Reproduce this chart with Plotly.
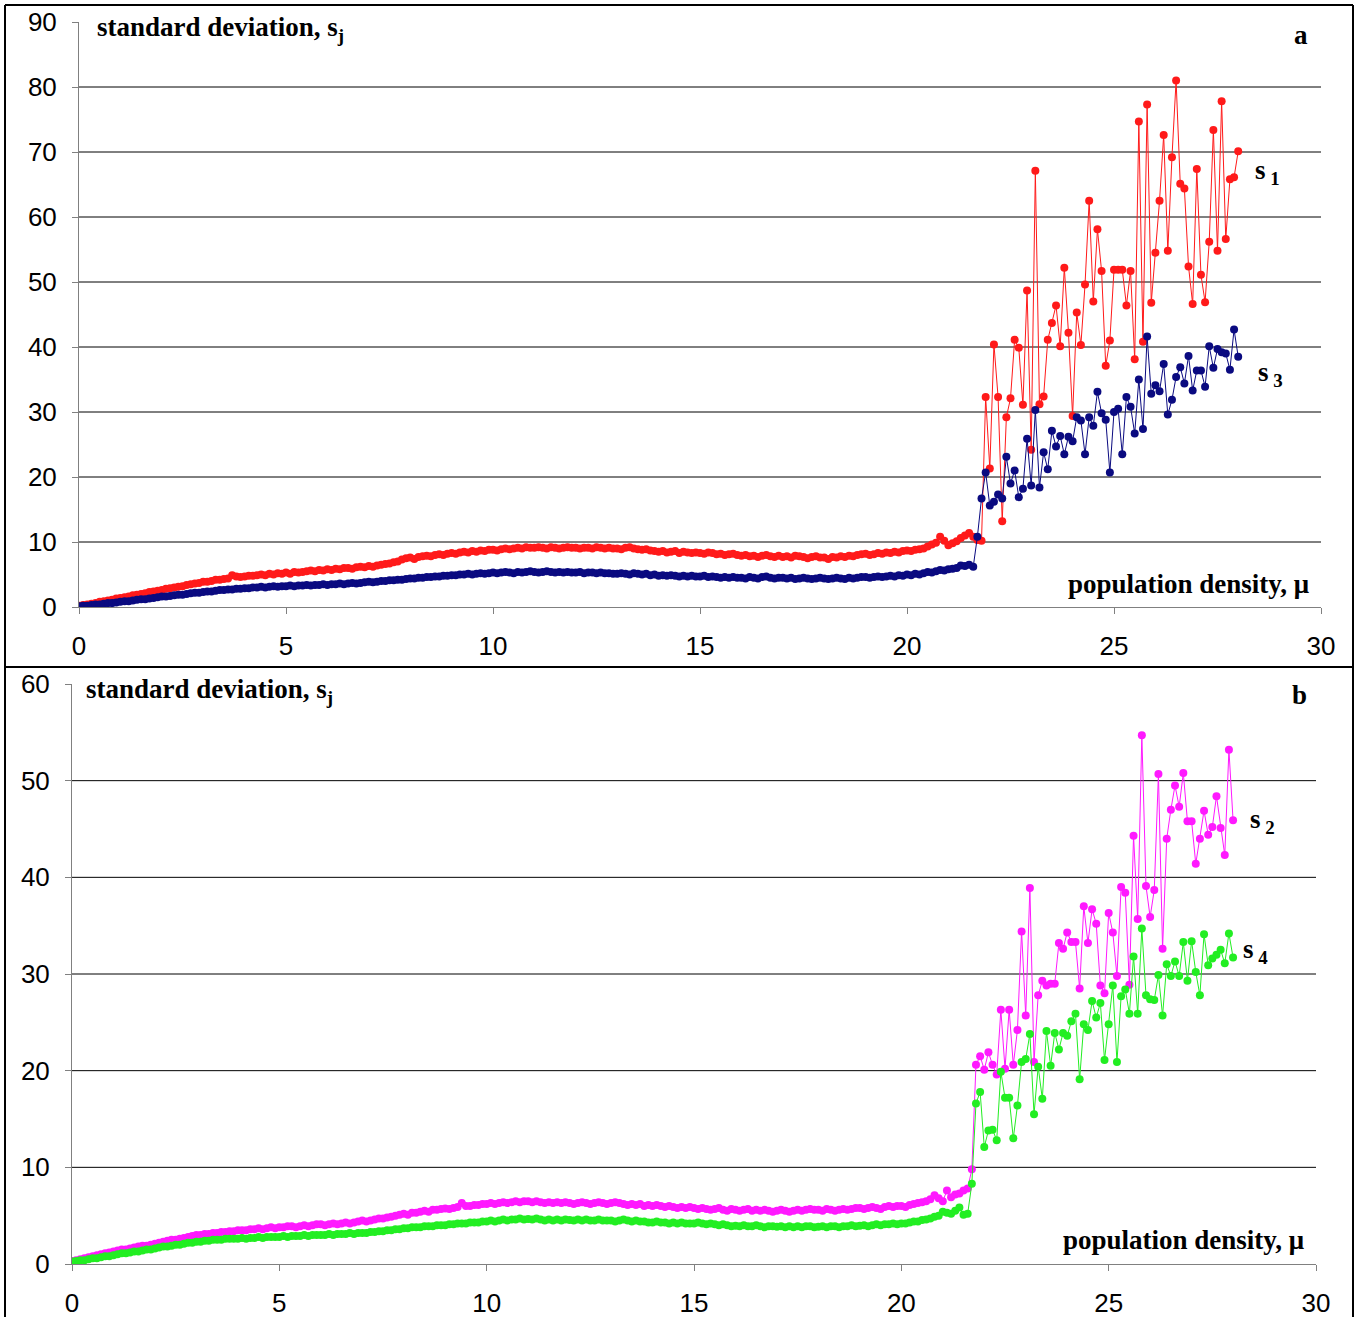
import plotly.graph_objects as go

W, H = 1358, 1317

# x grid: population density, step 0.1 from 0.0 to 28.0
x_vals = [round(0.1 * i, 1) for i in range(281)]

# ---------- panel a ----------
s1_dense = [
    0.2,0.3,0.4,0.5,0.6,0.8,0.9,1.0,1.1,1.3,
    1.4,1.5,1.6,1.8,1.9,2.0,2.1,2.3,2.4,2.5,
    2.6,2.8,2.9,3.0,3.1,3.2,3.4,3.5,3.6,3.7,
    3.9,3.9,4.0,4.2,4.2,4.3,4.4,4.9,4.7,4.6,
    4.7,4.8,4.8,4.9,5.0,4.9,5.1,5.0,5.2,5.1,
    5.3,5.1,5.4,5.3,5.4,5.5,5.6,5.5,5.7,5.6,
    5.8,5.7,5.9,5.8,6.0,6.0,5.9,6.1,6.2,6.1,
    6.3,6.2,6.4,6.5,6.6,6.7,6.9,7.0,7.3,7.5,
    7.6,7.4,7.7,7.8,7.9,7.8,8.0,8.1,8.0,8.2,
    8.3,8.2,8.4,8.5,8.4,8.6,8.5,8.7,8.6,8.8,
    8.8,8.7,8.9,9.0,8.9,9.0,9.1,9.0,9.2,9.1,
    9.1,9.2,9.1,9.0,9.2,9.1,9.0,9.1,9.2,9.1,
    9.1,9.0,9.1,9.1,9.0,9.2,9.1,9.0,9.1,9.0,
    9.0,8.9,9.1,9.2,9.0,8.9,8.8,8.9,8.7,8.6,
    8.5,8.6,8.4,8.5,8.6,8.3,8.5,8.4,8.3,8.4,
    8.3,8.2,8.4,8.3,8.1,8.2,8.0,8.1,8.2,8.0,
    7.9,8.0,7.8,7.9,7.7,7.9,8.0,7.8,7.7,7.9,
    7.7,7.8,7.6,7.9,7.8,7.7,7.5,7.7,7.8,7.6,
    7.6,7.4,7.7,7.6,7.8,7.7,7.9,7.8,8.0,8.1,
    8.2,8.0,8.1,8.3,8.2,8.4,8.3,8.5,8.4,8.6,
    8.7,8.6,8.8,8.9,9.0,9.3,9.6,9.9,10.8,10.2,
    9.5,9.8,10.1,10.6,11.0,11.4,10.8,
]
s1_sparse = [
    10.3,10.2,32.3,
    21.3,40.4,32.3,13.2,29.2,32.1,41.1,39.9,31.1,48.7,
    24.2,67.1,31.2,32.4,41.1,43.7,46.4,40.1,52.2,42.2,
    29.4,45.3,40.3,49.6,62.5,47.0,58.1,51.7,37.1,41.0,
    51.9,51.9,51.9,46.4,51.7,38.1,74.7,40.8,77.3,46.8,
    54.5,62.5,72.6,54.8,69.2,81.0,65.1,64.4,52.4,46.6,
    67.4,51.1,46.9,56.2,73.4,54.8,77.8,56.6,65.8,66.1,
    70.1,
]
s3_dense = [
    0.1,0.2,0.2,0.3,0.4,0.4,0.5,0.6,0.6,0.7,
    0.8,0.9,0.9,1.0,1.1,1.2,1.2,1.3,1.4,1.5,
    1.6,1.6,1.7,1.8,1.9,1.9,2.0,2.1,2.2,2.2,
    2.3,2.4,2.4,2.5,2.6,2.6,2.7,2.7,2.8,2.8,
    2.9,2.9,3.0,3.0,3.1,3.0,3.1,3.2,3.1,3.2,
    3.2,3.3,3.2,3.3,3.3,3.4,3.3,3.4,3.4,3.5,
    3.4,3.5,3.5,3.6,3.5,3.6,3.7,3.6,3.7,3.8,
    3.9,3.8,3.9,4.0,4.0,4.1,4.1,4.2,4.2,4.3,
    4.4,4.4,4.5,4.5,4.6,4.6,4.7,4.7,4.8,4.8,
    4.9,4.9,5.0,5.0,5.1,5.0,5.1,5.2,5.1,5.2,
    5.3,5.2,5.3,5.4,5.3,5.2,5.4,5.3,5.4,5.5,
    5.4,5.3,5.4,5.5,5.4,5.3,5.4,5.3,5.4,5.3,
    5.3,5.4,5.2,5.3,5.3,5.2,5.3,5.2,5.2,5.1,
    5.1,5.2,5.1,5.0,5.2,5.1,5.0,5.1,4.9,5.0,
    4.8,4.9,4.8,4.9,4.8,4.7,4.8,4.7,4.8,4.7,
    4.7,4.8,4.6,4.7,4.6,4.5,4.6,4.5,4.6,4.5,
    4.5,4.4,4.6,4.5,4.4,4.6,4.7,4.5,4.4,4.5,
    4.5,4.4,4.5,4.3,4.4,4.5,4.4,4.3,4.4,4.5,
    4.4,4.3,4.4,4.5,4.4,4.3,4.5,4.4,4.5,4.6,
    4.6,4.5,4.6,4.7,4.6,4.7,4.8,4.7,4.9,4.8,
    5.0,4.9,5.1,5.0,5.2,5.4,5.3,5.5,5.7,5.6,
    5.8,5.9,6.0,6.4,6.3,6.5,6.2,
]
s3_sparse = [
    10.8,16.7,20.7,
    15.6,16.2,17.3,16.7,23.1,19.0,21.0,16.9,18.2,25.9,
    18.7,30.3,18.4,23.8,21.2,27.1,24.7,26.3,23.5,26.2,
    25.5,29.2,28.7,23.5,29.2,27.9,33.1,29.8,28.8,20.7,
    30.0,30.5,23.5,32.3,30.8,26.7,35.0,27.4,41.6,32.8,
    34.1,33.2,37.4,29.6,31.9,35.4,36.9,34.4,38.6,33.3,
    36.4,36.4,33.9,40.1,36.8,39.7,39.2,39.0,36.5,42.7,
    38.5,
]

# ---------- panel b ----------
s2_dense = [
    0.3,0.4,0.5,0.6,0.7,0.8,0.9,1.0,1.1,1.2,
    1.3,1.4,1.5,1.5,1.6,1.7,1.8,1.9,1.9,2.0,
    2.1,2.2,2.3,2.4,2.5,2.5,2.6,2.7,2.8,2.9,
    3.0,3.0,3.1,3.1,3.2,3.2,3.3,3.3,3.4,3.4,
    3.5,3.5,3.5,3.6,3.6,3.7,3.6,3.7,3.8,3.7,
    3.8,3.8,3.9,3.9,3.8,3.9,4.0,3.9,4.0,4.1,
    4.1,4.0,4.1,4.2,4.1,4.2,4.3,4.2,4.3,4.4,
    4.5,4.4,4.5,4.6,4.7,4.7,4.8,4.9,5.0,5.1,
    5.2,5.1,5.3,5.3,5.4,5.5,5.4,5.6,5.6,5.7,
    5.75,5.7,5.8,5.9,6.3,6.0,6.0,6.1,6.1,6.2,
    6.2,6.3,6.2,6.3,6.4,6.3,6.4,6.5,6.4,6.5,
    6.5,6.4,6.5,6.4,6.3,6.4,6.3,6.4,6.3,6.4,
    6.3,6.2,6.3,6.4,6.3,6.2,6.3,6.4,6.3,6.2,
    6.3,6.4,6.3,6.2,6.1,6.2,6.1,6.2,6.0,6.1,
    6.0,6.1,6.0,5.9,6.0,5.9,5.8,5.9,5.8,5.9,
    5.8,5.7,5.8,5.7,5.6,5.7,5.8,5.6,5.5,5.7,
    5.6,5.5,5.6,5.7,5.5,5.6,5.5,5.6,5.5,5.4,
    5.5,5.6,5.5,5.4,5.5,5.6,5.5,5.6,5.7,5.6,
    5.6,5.5,5.7,5.6,5.5,5.6,5.7,5.6,5.7,5.8,
    5.8,5.7,5.8,5.9,5.8,5.7,5.9,6.0,5.9,6.0,
    6.0,5.9,6.1,6.2,6.3,6.4,6.5,6.7,7.1,6.8,
    6.5,7.6,6.9,7.2,7.3,7.6,7.8,
]
s2_sparse = [
    9.8,20.6,21.5,
    20.1,21.9,20.6,19.6,26.3,20.2,26.3,20.6,24.2,34.4,
    25.7,38.9,20.9,27.8,29.3,28.8,29.0,29.0,33.2,32.6,
    34.3,33.3,33.3,28.5,37.0,33.2,36.7,35.2,28.8,28.0,
    36.3,34.3,29.8,39.0,38.4,28.9,44.3,35.7,54.7,39.1,
    35.9,38.7,50.7,32.6,44.0,47.0,49.5,47.3,50.8,45.8,
    45.8,41.4,44.0,46.9,44.4,45.2,48.4,45.1,42.3,53.2,
    45.9,
]
s4_dense = [
    0.25,0.3,0.4,0.4,0.5,0.6,0.6,0.7,0.8,0.8,
    0.9,1.0,1.1,1.1,1.2,1.3,1.3,1.4,1.5,1.5,
    1.6,1.7,1.8,1.8,1.9,2.0,2.0,2.1,2.2,2.2,
    2.3,2.3,2.4,2.4,2.5,2.5,2.5,2.6,2.6,2.6,
    2.6,2.7,2.6,2.7,2.7,2.8,2.7,2.8,2.8,2.8,
    2.8,2.9,2.8,2.9,2.9,2.9,3.0,2.9,3.0,3.0,
    3.0,3.0,3.1,3.0,3.1,3.1,3.1,3.2,3.1,3.2,
    3.2,3.2,3.3,3.3,3.4,3.4,3.5,3.5,3.6,3.6,
    3.7,3.7,3.8,3.8,3.8,3.9,3.9,3.9,4.0,4.0,
    4.0,4.1,4.1,4.2,4.2,4.2,4.3,4.3,4.3,4.4,
    4.4,4.5,4.4,4.5,4.6,4.5,4.6,4.6,4.7,4.6,
    4.65,4.6,4.7,4.6,4.5,4.6,4.5,4.6,4.5,4.6,
    4.55,4.5,4.6,4.5,4.6,4.5,4.5,4.6,4.5,4.5,
    4.5,4.4,4.5,4.6,4.5,4.4,4.5,4.4,4.4,4.3,
    4.3,4.4,4.3,4.3,4.2,4.3,4.2,4.3,4.2,4.2,
    4.2,4.3,4.2,4.1,4.2,4.1,4.0,4.1,4.0,3.9,
    3.95,3.9,4.0,3.9,3.9,4.0,3.9,3.8,3.9,3.9,
    3.85,3.9,3.8,3.9,3.8,3.9,3.8,3.9,3.9,3.8,
    3.85,3.9,3.8,3.9,3.9,3.8,3.9,3.9,4.0,3.9,
    3.95,4.0,3.9,4.0,4.1,4.0,4.1,4.1,4.2,4.1,
    4.2,4.2,4.3,4.4,4.4,4.55,4.6,4.7,4.9,5.0,
    5.4,5.3,5.2,5.5,5.85,5.1,5.2,
]
s4_sparse = [
    8.3,16.6,17.8,
    12.1,13.8,13.9,12.8,19.9,17.2,17.2,13.0,16.4,20.9,
    21.2,23.8,15.5,20.4,17.1,24.1,20.5,23.9,22.2,23.9,
    23.6,25.1,25.9,19.1,24.8,24.2,27.2,25.5,27.0,21.1,
    24.8,28.8,20.9,27.7,28.4,25.9,31.8,25.9,34.7,27.8,
    27.4,27.3,29.9,25.7,31.0,29.8,31.3,29.8,33.3,29.3,
    33.4,30.2,27.8,34.1,30.9,31.6,32.0,32.5,31.1,34.2,
    31.7,
]

s1 = s1_dense + s1_sparse
s3 = s3_dense + s3_sparse
s2 = s2_dense + s2_sparse
s4 = s4_dense + s4_sparse

x_ticks = [0, 5, 10, 15, 20, 25, 30]
ya_ticks = [0, 10, 20, 30, 40, 50, 60, 70, 80, 90]
yb_ticks = [0, 10, 20, 30, 40, 50, 60]
ya_grid = [10, 20, 30, 40, 50, 60, 70, 80]
yb_grid = [10, 20, 30, 40, 50]

COL = {"s1": "#ff1a1a", "s3": "#0a0a80", "s2": "#ff19ff", "s4": "#22ee22"}


def px(xp):
    return xp / W


def py(yp):
    return 1 - yp / H


fig = go.Figure()


def add_series(y, color, xa, ya):
    fig.add_trace(go.Scatter(
        x=x_vals, y=y, mode="lines+markers", xaxis=xa, yaxis=ya,
        line=dict(color=color, width=1),
        marker=dict(color=color, size=8, line=dict(width=0)),
        showlegend=False, hoverinfo="x+y",
    ))


add_series(s1, COL["s1"], "x", "y")
add_series(s3, COL["s3"], "x", "y")
add_series(s2, COL["s2"], "x2", "y2")
add_series(s4, COL["s4"], "x2", "y2")

tickfont = dict(family="Liberation Sans, Arial, sans-serif", size=26, color="black")
axis_common = dict(showline=True, linecolor="#808080", linewidth=1, ticks="outside",
                   ticklen=6, tickcolor="#808080", tickwidth=1, showgrid=False,
                   zeroline=False, tickfont=tickfont, fixedrange=True, automargin=False)

fig.update_layout(
    template="none",
    width=W, height=H, margin=dict(l=0, r=0, t=0, b=0, pad=0), autosize=False,
    paper_bgcolor="white", plot_bgcolor="white",
    xaxis=dict(domain=[px(79), px(1321)], range=[0, 30], tickvals=x_ticks,
               anchor="y", ticklabelstandoff=10, **axis_common),
    yaxis=dict(domain=[py(607), py(22)], range=[0, 90], tickvals=ya_ticks,
               anchor="x", ticklabelstandoff=10, **axis_common),
    xaxis2=dict(domain=[px(72), px(1316)], range=[0, 30], tickvals=x_ticks,
                anchor="y2", ticklabelstandoff=10, **axis_common),
    yaxis2=dict(domain=[py(1264), py(684)], range=[0, 60], tickvals=yb_ticks,
                anchor="x2", ticklabelstandoff=10, **axis_common),
)

shapes = []
for g in ya_grid:
    shapes.append(dict(type="line", xref="x", yref="y", x0=0, x1=30, y0=g, y1=g,
                       line=dict(color="black", width=1), layer="below"))
for g in yb_grid:
    shapes.append(dict(type="line", xref="x2", yref="y2", x0=0, x1=30, y0=g, y1=g,
                       line=dict(color="black", width=1), layer="below"))
# outer frame and divider
frame = dict(color="black", width=2)
shapes += [
    dict(type="line", xref="paper", yref="paper", x0=px(5), x1=px(5), y0=py(5), y1=py(1320), line=frame),
    dict(type="line", xref="paper", yref="paper", x0=px(1353), x1=px(1353), y0=py(5), y1=py(1320), line=frame),
    dict(type="line", xref="paper", yref="paper", x0=px(5), x1=px(1353), y0=py(5), y1=py(5), line=frame),
    dict(type="line", xref="paper", yref="paper", x0=px(5), x1=px(1353), y0=py(667), y1=py(667), line=frame),
]
fig.update_layout(shapes=shapes)

serif = dict(family="Liberation Serif, Times New Roman, serif", size=27, color="black")
ann = []


def label(text, xp, yp, xanchor="left"):
    ann.append(dict(text=text, xref="paper", yref="paper", x=px(xp), y=py(yp),
                    xanchor=xanchor, yanchor="middle", showarrow=False, font=serif))


label("<b>standard deviation, s<sub>j</sub></b>", 95, 29)
label("<b>a</b>", 1310, 35, "right")
label("<b>population density, μ</b>", 1311, 584, "right")
label("<b>s<sub> 1</sub></b>", 1253, 172)
label("<b>s<sub> 3</sub></b>", 1256, 374)

label("<b>standard deviation, s<sub>j</sub></b>", 84, 691)
label("<b>b</b>", 1309, 695, "right")
label("<b>population density, μ</b>", 1306, 1240, "right")
label("<b>s<sub> 2</sub></b>", 1248, 821)
label("<b>s<sub> 4</sub></b>", 1241, 951)
fig.update_layout(annotations=ann)

post = ("document.documentElement.style.margin='0';document.body.style.margin='0';"
        "document.body.style.padding='0';document.documentElement.style.overflow='hidden';"
        "document.body.style.overflow='hidden';")
fig.write_html("out.html", post_script=post, config={"displayModeBar": False})
